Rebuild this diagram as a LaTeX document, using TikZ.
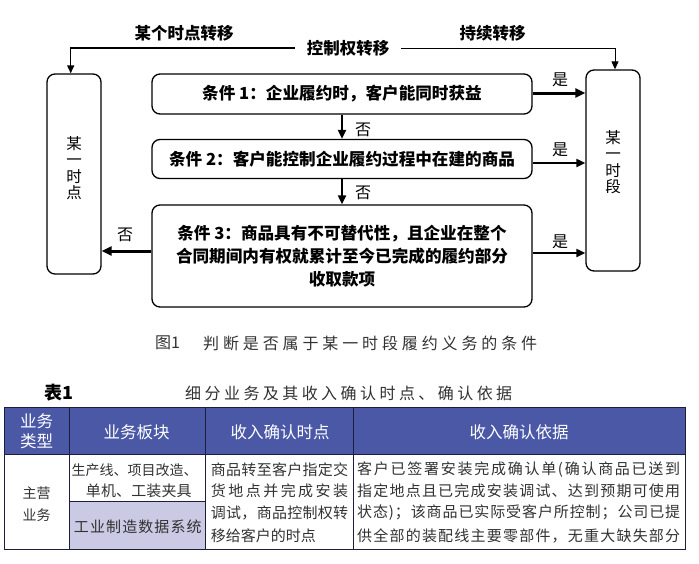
\documentclass[tikz,border=0pt]{standalone}
\usepackage{fontspec}
\setmainfont{Noto Sans CJK SC}
\usetikzlibrary{arrows.meta}
\definecolor{hdr}{RGB}{74,88,166}
\definecolor{lav}{RGB}{202,202,228}
\definecolor{txtgray}{RGB}{50,50,50}
\definecolor{tline}{RGB}{30,30,60}
\newcommand\fs[2]{\fontsize{#1pt}{#2pt}\selectfont}
\makeatletter
\newskip\mytrackskip
\def\mysout#1{\mysout@i#1\@nil}
\def\mysout@i#1#2\@nil{#1\if\relax\detokenize{#2}\relax\else\hskip\mytrackskip\mysout@i#2\@nil\fi}
\makeatother
\newcommand\spread[2]{\makebox[#1pt][s]{\mytrackskip=0pt plus 1fil\relax\mysout{#2}}}
\newcommand\track[2]{{\mytrackskip=#1pt\relax\mysout{#2}}}
\tikzset{
  cond/.style={draw, line width=1.3pt, rounded corners=8pt, minimum width=380pt, inner sep=0pt, font=\fs{16.6}{23.3}\bfseries, align=center},
  side/.style={draw, line width=1.3pt, rounded corners=8pt, minimum width=54pt, inner sep=0pt},
  vtext/.style={font=\fs{15.5}{16.5}, align=center, inner sep=0pt},
  lbl/.style={font=\fs{16}{18}, inner sep=0pt},
  toplbl/.style={font=\fs{16.5}{18}\bfseries, inner sep=0pt},
  thickarr/.style={line width=3pt, -{Triangle[length=10pt,width=9pt]}},
  arr/.style={line width=2pt, -{Triangle[length=9pt,width=8pt]}},
  toparr/.style={-{Triangle[length=8pt,width=7pt]}},
  hd/.style={font=\fs{16.5}{20}, text=white, inner sep=0pt, align=center},
  bd/.style={font=\fs{15}{21}, text=txtgray, inner sep=0pt},
  tl/.style={draw=tline, line width=0.9pt},
}
\begin{document}
\begin{tikzpicture}[x=1pt,y=-1pt]
\useasboundingbox (0,0) rectangle (699,563);
% --- top labels
\node[toplbl, inner xsep=12pt] (ctrl) at (348,48) {控制权转移};
\node[toplbl] (lt) at (184,33) {某个时点转移};
\node[toplbl] (ct) at (492.5,33) {持续转移};
% --- boxes
\node[cond, minimum height=40pt] (b1) at (342,94) {条件 1：企业履约时，客户能同时获益};
\node[cond, minimum height=39pt] (b2) at (342,159) {条件 2：客户能控制企业履约过程中在建的商品};
\node[cond, minimum height=102pt] (b3) at (342,256) {条件 3：商品具有不可替代性，且企业在整个\\合同期间内有权就累计至今已完成的履约部分\\收取款项};
\node[side, minimum height=200pt] (pt) at (74,174) {};
\node[vtext] (ptt) at (74,168) {某\\一\\时\\点};
\node[side, minimum height=201pt] (rt) at (613,170.5) {};
\node[vtext] (rtt) at (613,162) {某\\一\\时\\段};
% --- connectors
\draw[line width=1.5pt, toparr] (ctrl.west) -| ([xshift=-3.3pt]pt.north);
\draw[line width=1pt, toparr] (ctrl.east) -| ([xshift=2pt]rt.north);
\draw[thickarr] ([yshift=1pt]b1.east) -- ([yshift=1pt]b1.east -| rt.west);
\draw[arr] ([yshift=-4pt]b2.east) -- ([yshift=-4pt]b2.east -| rt.west);
\draw[arr] ([yshift=3pt]b3.east) -- ([yshift=3pt]b3.east -| rt.west);
\draw[thickarr] ([yshift=5pt]b3.west) -- ([yshift=5pt]b3.west -| pt.east);
\draw[arr] (b1.south) -- (b2.north);
\draw[arr] (b2.south) -- (b3.north);
\node[lbl] (y1) at (560,80) {是};
\node[lbl] (y2) at (560,150) {是};
\node[lbl] (y3) at (560,241.7) {是};
\node[lbl] (n1) at (363,130) {否};
\node[lbl] (n2) at (363,193) {否};
\node[lbl] (n3) at (125,235) {否};
% --- caption
\node[font=\fs{16}{18}, text=txtgray, inner sep=0pt, anchor=west] (cap1) at (155,343) {图1};
\node[font=\fs{16}{18}, text=txtgray, inner sep=0pt, anchor=west] (cap2) at (203,343) {\spread{334}{判断是否属于某一时段履约义务的条件}};
% --- table title
\node[font=\fs{18}{20}\bfseries, inner sep=0pt] (tb) at (58.5,393) {表1};
\node[font=\fs{16}{18}, text=txtgray, inner sep=0pt, anchor=west] (tt) at (185,393) {\spread{327}{细分业务及其收入确认时点、确认依据}};
% --- table
\fill[hdr] (4,407) rectangle (685,454);
\fill[lav] (69.3,501.7) rectangle (205,549);
\draw[tl] (4,407) rectangle (685,549);
\draw[tl] (4,454) -- (685,454);
\draw[tl] (69.3,407) -- (69.3,549);
\draw[tl] (205,407) -- (205,549);
\draw[tl] (353,407) -- (353,549);
\draw[tl, line width=1.3pt] (69.3,501.7) -- (205,501.7);
\node[hd] (h1) at (36.7,431.7) {业务\\类型};
\node[hd] (h2) at (136.7,432) {业务板块};
\node[hd] (h3) at (280,432) {收入确认时点};
\node[hd] (h4) at (519,432) {收入确认依据};
\node[bd, font=\fs{14}{22}, align=center] (m1) at (36.7,504) {主营\\业务};
\node[bd, font=\fs{14}{16}] (c2a) at (134.7,470) {生产线、项目改造、};
\node[bd] (c2b) at (138.8,490.5) {\spread{105.7}{单机、工装夹具}};
\node[bd] (c2c) at (137.8,526.7) {\spread{127.7}{工业制造数据系统}};
\node[bd, anchor=west] (c3a) at (210.7,470) {\spread{137.3}{商品转至客户指定交}};
\node[bd, anchor=west] (c3b) at (210.7,491) {\spread{137.3}{货地点并完成安装}};
\node[bd, anchor=west] (c3c) at (210.7,512.5) {\spread{137.3}{调试，商品控制权转}};
\node[bd, anchor=west] (c3d) at (210.7,535.5) {移给客户的时点};
\node[bd, anchor=west] (c4a) at (357,470) {\spread{323}{客户已签署安装完成确认单(确认商品已送到}};
\node[bd, anchor=west] (c4b) at (357,491) {\spread{323}{指定地点且已完成安装调试、达到预期可使用}};
\node[bd, anchor=west] (c4c) at (357,512.5) {\spread{323}{状态)；该商品已实际受客户所控制；公司已提}};
\node[bd, anchor=west] (c4d) at (357,535.5) {\spread{323}{供全部的装配线主要零部件，无重大缺失部分}};
\end{tikzpicture}
\end{document}
